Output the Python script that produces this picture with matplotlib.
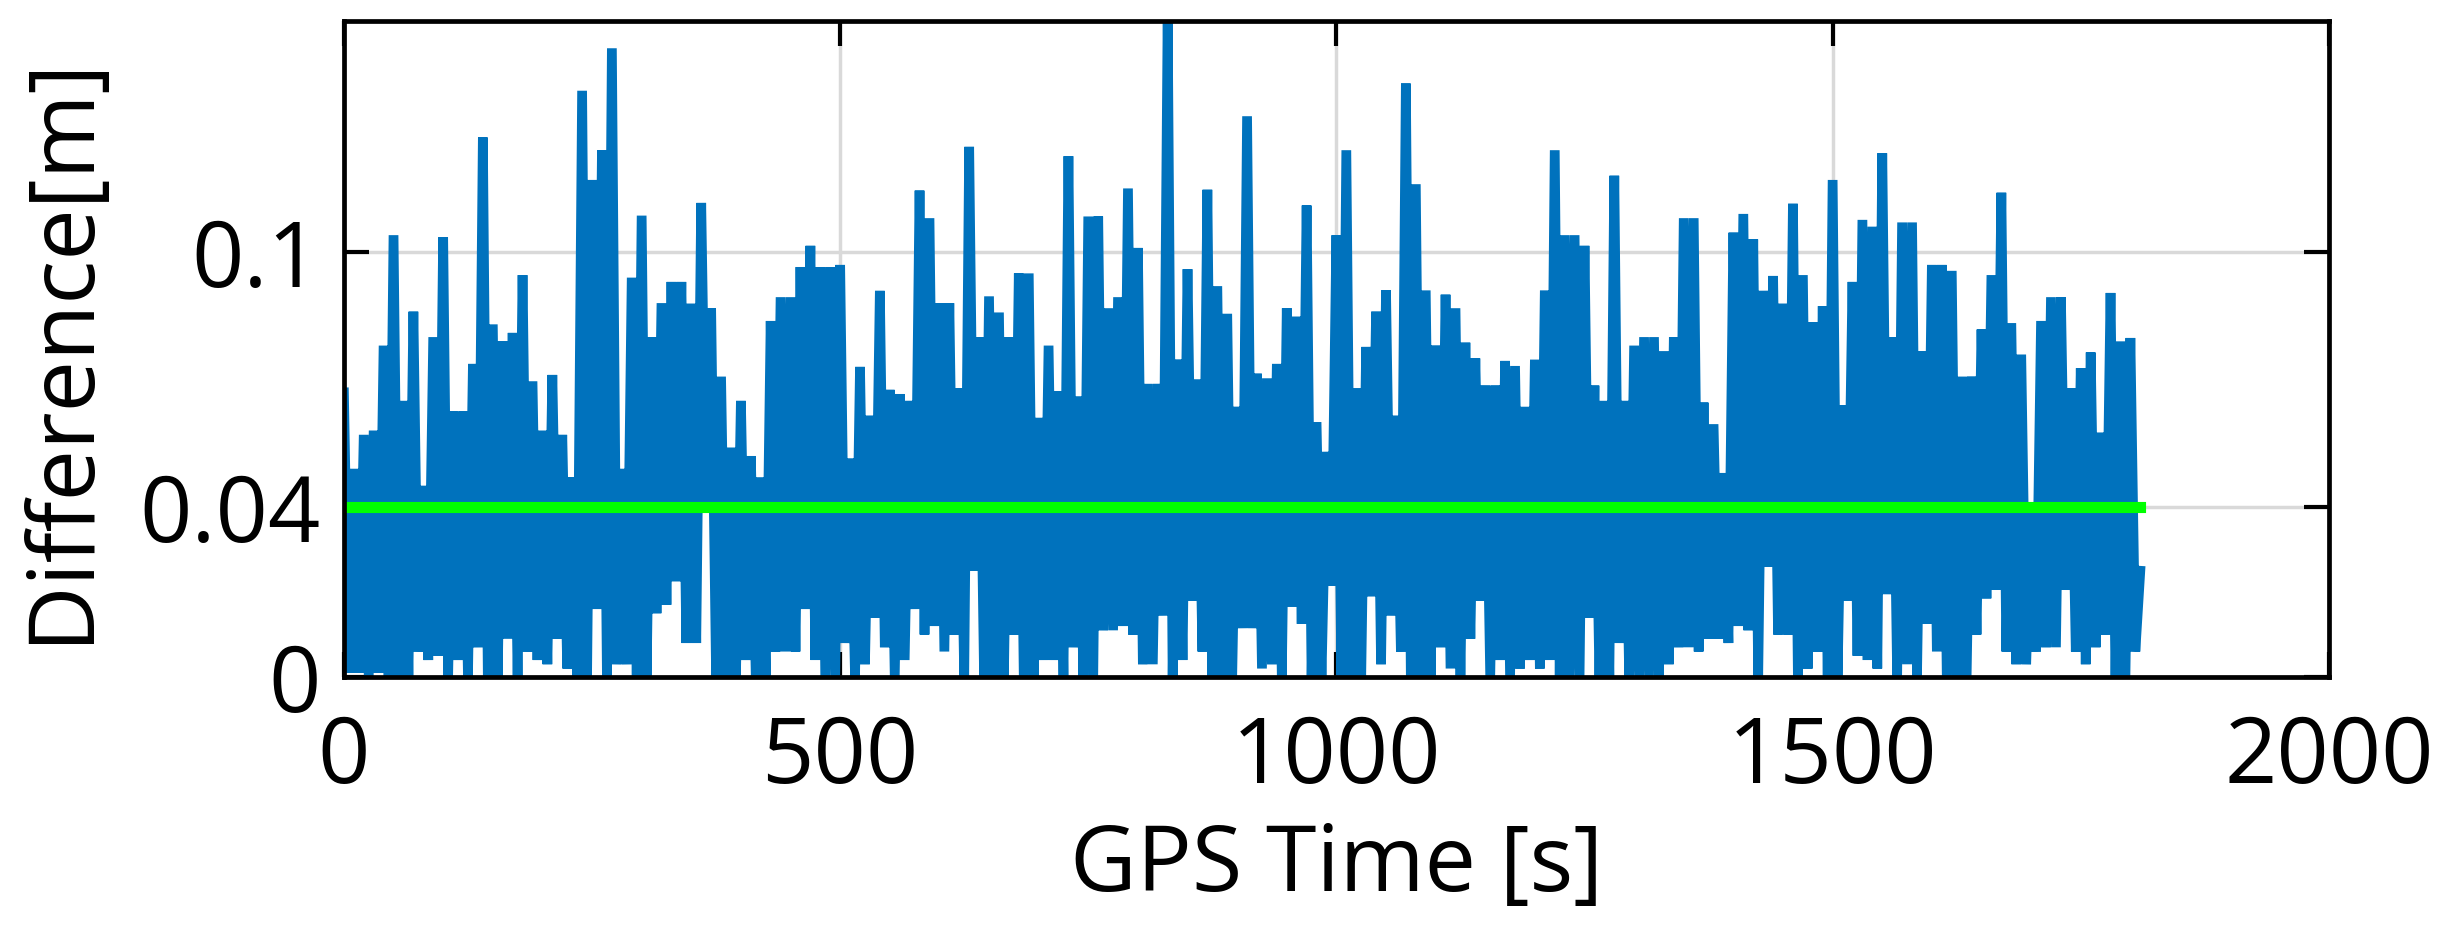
import numpy as np
import matplotlib.pyplot as plt

plt.rcParams['font.family'] = ['Open Sans', 'DejaVu Sans']

# upper envelope of the difference [m], read every 10 s starting at t = 0 s
diff_peaks = [0.067, 0.049, 0.057, 0.058, 0.078, 0.104, 0.065, 0.086, 0.045, 0.080,
              0.1035, 0.0625, 0.0625, 0.0737, 0.127, 0.083, 0.079, 0.081, 0.0946, 0.0696,
              0.058, 0.0711, 0.057, 0.047, 0.138, 0.117, 0.124, 0.148, 0.049, 0.094,
              0.1086, 0.080, 0.088, 0.093, 0.093, 0.0879, 0.1116, 0.0868, 0.0707, 0.054,
              0.065, 0.052, 0.047, 0.0838, 0.0894, 0.0894, 0.0965, 0.1015, 0.0965, 0.0965,
              0.097, 0.0514, 0.073, 0.0615, 0.0909, 0.0676, 0.0666, 0.065, 0.1145, 0.108,
              0.088, 0.088, 0.068, 0.1248, 0.080, 0.0896, 0.0858, 0.080, 0.095, 0.095,
              0.061, 0.078, 0.0673, 0.1226, 0.066, 0.1084, 0.1084, 0.0868, 0.0894, 0.115,
              0.101, 0.069, 0.069, 0.156, 0.0747, 0.096, 0.070, 0.1147, 0.092, 0.0855,
              0.0636, 0.132, 0.0714, 0.0703, 0.0737, 0.0868, 0.0848, 0.111, 0.060, 0.053,
              0.104, 0.124, 0.068, 0.0777, 0.086, 0.091, 0.0615, 0.1397, 0.116, 0.091,
              0.078, 0.090, 0.0868, 0.0787, 0.075, 0.0686, 0.0686, 0.0744, 0.0732, 0.0636,
              0.0747, 0.091, 0.124, 0.104, 0.104, 0.1015, 0.0686, 0.065, 0.118, 0.065,
              0.078, 0.080, 0.080, 0.0767, 0.080, 0.108, 0.108, 0.0646, 0.0595, 0.048,
              0.1046, 0.109, 0.103, 0.0909, 0.0944, 0.0879, 0.1114, 0.0946, 0.0835, 0.0873,
              0.117, 0.064, 0.093, 0.1076, 0.106, 0.1233, 0.080, 0.107, 0.107, 0.0767,
              0.097, 0.097, 0.0956, 0.0707, 0.0707, 0.0818, 0.0946, 0.114, 0.0833, 0.0759,
              0.041, 0.0838, 0.0894, 0.0894, 0.068, 0.0727, 0.0764, 0.0575, 0.0904, 0.079,
              0.0798, 0.025]

# lower envelope in between, read every 10 s starting at t = 5 s
diff_troughs = [0.001, 0.001, 0.0, 0.001, 0.0, 0.0, 0.0, 0.006, 0.004, 0.005,
                0.0, 0.004, 0.0, 0.007, 0.0, 0.0, 0.009, 0.0, 0.006, 0.004,
                0.003, 0.009, 0.002, 0.0, 0.0, 0.016, 0.0, 0.003, 0.003, 0.0,
                0.0, 0.015, 0.017, 0.0225, 0.008, 0.008, 0.039, 0.0, 0.0, 0.0,
                0.004, 0.0, 0.0, 0.006, 0.006, 0.006, 0.016, 0.004, 0.0, 0.0,
                0.008, 0.0, 0.003, 0.014, 0.007, 0.0, 0.004, 0.016, 0.010, 0.012,
                0.006, 0.010, 0.0, 0.025, 0.0, 0.0, 0.0, 0.010, 0.0, 0.0,
                0.004, 0.004, 0.0, 0.007, 0.0, 0.0, 0.011, 0.011, 0.012, 0.010,
                0.003, 0.003, 0.0145, 0.0, 0.004, 0.018, 0.006, 0.0, 0.0, 0.0,
                0.0115, 0.0115, 0.002, 0.003, 0.0, 0.0165, 0.0125, 0.0, 0.0, 0.0215,
                0.0, 0.0, 0.0, 0.019, 0.003, 0.0145, 0.006, 0.0, 0.0, 0.0,
                0.007, 0.002, 0.0, 0.009, 0.018, 0.0, 0.004, 0.0, 0.002, 0.004,
                0.002, 0.004, 0.0, 0.0, 0.0, 0.014, 0.0, 0.0, 0.008, 0.0,
                0.0, 0.0, 0.0, 0.003, 0.007, 0.007, 0.006, 0.009, 0.009, 0.008,
                0.012, 0.011, 0.0, 0.026, 0.010, 0.010, 0.0, 0.002, 0.006, 0.0,
                0.0, 0.018, 0.005, 0.004, 0.002, 0.0195, 0.0, 0.003, 0.0, 0.0125,
                0.006, 0.0, 0.0, 0.0, 0.010, 0.0185, 0.0205, 0.006, 0.003, 0.003,
                0.006, 0.007, 0.007, 0.0205, 0.006, 0.003, 0.007, 0.010, 0.0, 0.0,
                0.006]

threshold = 0.04
xticks = [0, 500, 1000, 1500, 2000]
yticks = [0, 0.04, 0.1]
ytick_labels = ['0', '0.04', '0.1']

# interleave peaks and troughs into one time series
peak_t = np.arange(len(diff_peaks)) * 10.0
trough_t = np.arange(len(diff_troughs)) * 10.0 + 5.0
t = np.empty(len(peak_t) + len(trough_t))
d = np.empty_like(t)
t[0::2] = peak_t
d[0::2] = diff_peaks
t[1::2] = trough_t
d[1::2] = diff_troughs

fig = plt.figure(figsize=(24.53, 9.27), dpi=100)
ax = fig.add_axes([0.1402, 0.2697, 0.8092, 0.708])

ax.plot(t, d, color='#0072bd', lw=7, solid_joinstyle='bevel', zorder=2)
ax.plot([t[0], t[-1]], [threshold, threshold], color='#00ff00', lw=8, zorder=3)

ax.set_xlim(0, 2000)
ax.set_ylim(0, 0.1545)
ax.set_xticks(xticks)
ax.set_xticklabels([str(x) for x in xticks])
ax.set_yticks(yticks)
ax.set_yticklabels(ytick_labels)

ax.grid(True, color='#d9d9d9', lw=2.5, zorder=0)
ax.set_axisbelow(True)
for s in ax.spines.values():
    s.set_linewidth(3.4)
    s.set_zorder(4)

ax.tick_params(direction='in', length=18, width=3, top=True, right=True, labelsize=66)
ax.tick_params(axis='x', pad=26)
ax.tick_params(axis='y', pad=17)

ax.set_xlabel('GPS Time [s]', fontsize=66, labelpad=12)
ax.set_ylabel('Difference[m]', fontsize=66, labelpad=22)

fig.savefig('out.png', dpi=100)
